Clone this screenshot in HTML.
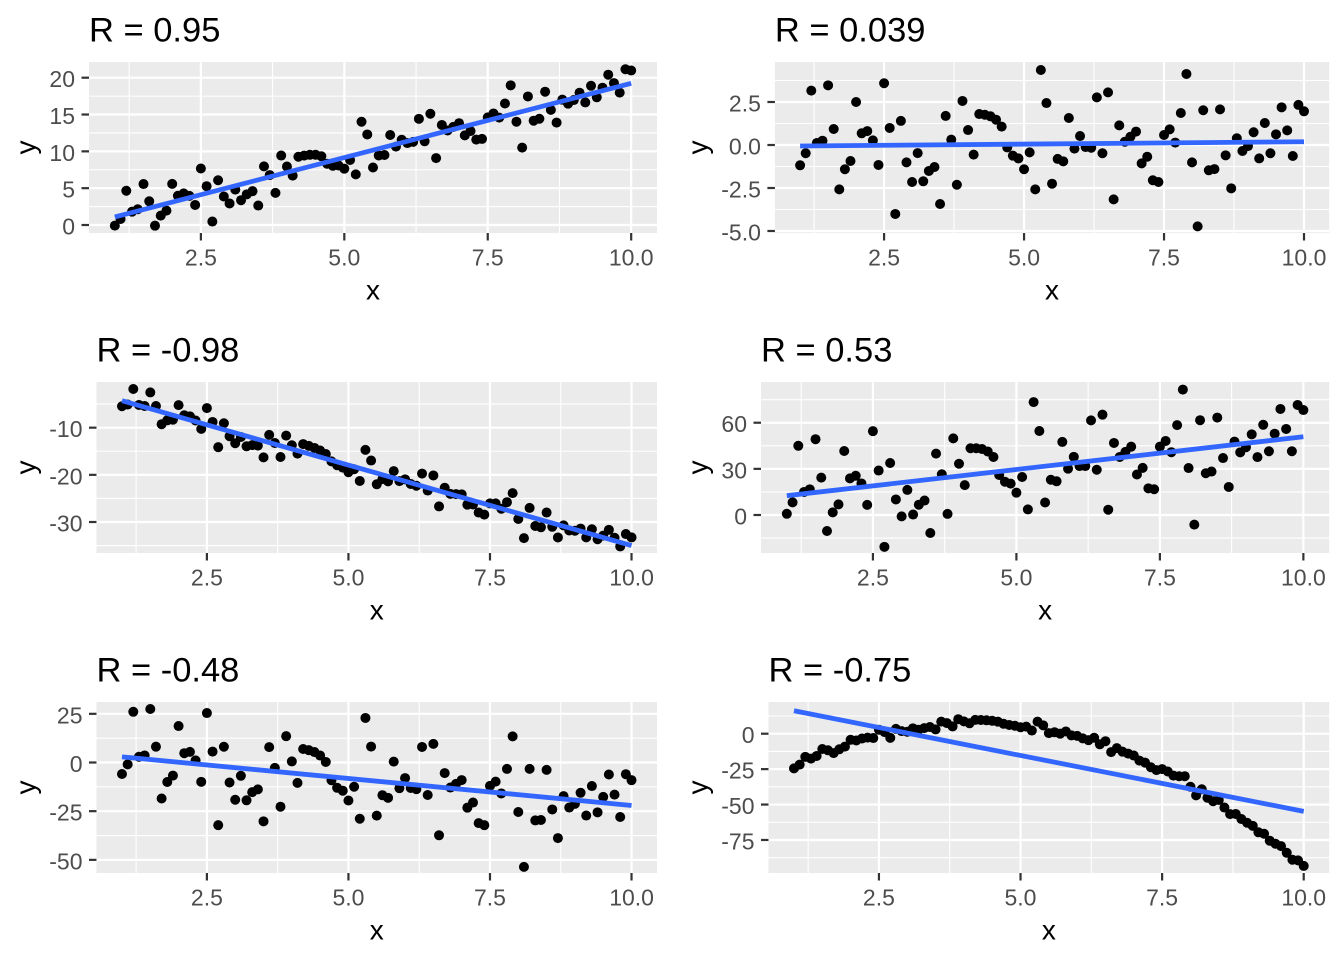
<!DOCTYPE html>
<html><head><meta charset="utf-8">
<style>
html,body{margin:0;padding:0;background:#fff;}
svg{display:block;}
text{font-family:"Liberation Sans",Arial,sans-serif;}
.tl{font-size:23px;fill:#4D4D4D;}
.at{font-size:28px;fill:#000;}
.tt{font-size:34.5px;fill:#000;}
</style></head><body>
<svg id="s" width="1344" height="960" xmlns="http://www.w3.org/2000/svg">
<rect width="1344" height="960" fill="#fff"/>
<g id="plots"></g>

<!-- Panel 1 -->
<text class="tt" x="89" y="41.3">R = 0.95</text>
<g class="tl" text-anchor="end">
<text x="75" y="234.5">0</text><text x="75" y="197.7">5</text><text x="75" y="160.9">10</text><text x="75" y="124">15</text><text x="75" y="87.2">20</text>
</g>
<g class="tl" text-anchor="middle">
<text x="200.9" y="265.7">2.5</text><text x="344.3" y="265.7">5.0</text><text x="487.7" y="265.7">7.5</text><text x="631.2" y="265.7">10.0</text>
</g>
<text class="at" x="373" y="299.3" text-anchor="middle">x</text>
<text class="at" text-anchor="middle" transform="translate(35,147.5) rotate(-90)">y</text>

<!-- Panel 2 -->
<text class="tt" x="774.9" y="41.3">R = 0.039</text>
<g class="tl" text-anchor="end">
<text x="760.9" y="111.5">2.5</text><text x="760.9" y="154.5">0.0</text><text x="760.9" y="197.5">-2.5</text><text x="760.9" y="240.5">-5.0</text>
</g>
<g class="tl" text-anchor="middle">
<text x="884.1" y="265.7">2.5</text><text x="1024.1" y="265.7">5.0</text><text x="1164" y="265.7">7.5</text><text x="1304" y="265.7">10.0</text>
</g>
<text class="at" x="1052" y="299.3" text-anchor="middle">x</text>
<text class="at" text-anchor="middle" transform="translate(707,147.5) rotate(-90)">y</text>

<!-- Panel 3 -->
<text class="tt" x="96.5" y="361.3">R = -0.98</text>
<g class="tl" text-anchor="end">
<text x="82.5" y="437.2">-10</text><text x="82.5" y="484.3">-20</text><text x="82.5" y="531.5">-30</text>
</g>
<g class="tl" text-anchor="middle">
<text x="206.9" y="585.7">2.5</text><text x="348.5" y="585.7">5.0</text><text x="490" y="585.7">7.5</text><text x="631.6" y="585.7">10.0</text>
</g>
<text class="at" x="376.75" y="619.3" text-anchor="middle">x</text>
<text class="at" text-anchor="middle" transform="translate(35,467.5) rotate(-90)">y</text>

<!-- Panel 4 -->
<text class="tt" x="761" y="361.3">R = 0.53</text>
<g class="tl" text-anchor="end">
<text x="747" y="524.5">0</text><text x="747" y="478.4">30</text><text x="747" y="432.2">60</text>
</g>
<g class="tl" text-anchor="middle">
<text x="872.9" y="585.7">2.5</text><text x="1016.4" y="585.7">5.0</text><text x="1159.9" y="585.7">7.5</text><text x="1303.4" y="585.7">10.0</text>
</g>
<text class="at" x="1045.1" y="619.3" text-anchor="middle">x</text>
<text class="at" text-anchor="middle" transform="translate(707,467.5) rotate(-90)">y</text>

<!-- Panel 5 -->
<text class="tt" x="96.5" y="681.3">R = -0.48</text>
<g class="tl" text-anchor="end">
<text x="82.5" y="723.3">25</text><text x="82.5" y="772">0</text><text x="82.5" y="820.7">-25</text><text x="82.5" y="869.4">-50</text>
</g>
<g class="tl" text-anchor="middle">
<text x="206.9" y="905.7">2.5</text><text x="348.5" y="905.7">5.0</text><text x="490" y="905.7">7.5</text><text x="631.6" y="905.7">10.0</text>
</g>
<text class="at" x="376.75" y="939.3" text-anchor="middle">x</text>
<text class="at" text-anchor="middle" transform="translate(35,787.5) rotate(-90)">y</text>

<!-- Panel 6 -->
<text class="tt" x="768.5" y="681.3">R = -0.75</text>
<g class="tl" text-anchor="end">
<text x="754.5" y="743.2">0</text><text x="754.5" y="778.6">-25</text><text x="754.5" y="814.05">-50</text><text x="754.5" y="849.5">-75</text>
</g>
<g class="tl" text-anchor="middle">
<text x="878.9" y="905.7">2.5</text><text x="1020.5" y="905.7">5.0</text><text x="1162.1" y="905.7">7.5</text><text x="1303.7" y="905.7">10.0</text>
</g>
<text class="at" x="1048.85" y="939.3" text-anchor="middle">x</text>
<text class="at" text-anchor="middle" transform="translate(707,787.5) rotate(-90)">y</text>
</svg>
<script>
(function(){
var NS="http://www.w3.org/2000/svg";
var E=[-1.18,-0.48,3.16,0.12,0.25,3.47,0.93,-2.58,-1.41,-0.93,
 2.5,0.68,0.81,0.27,-1.16,3.59,0.99,-4.01,1.40,-1.01,
 -2.15,-0.47,-2.11,-1.51,-1.28,-3.43,1.69,0.31,-2.31,2.56,
 0.87,-0.56,1.80,1.76,1.67,1.47,1.07,-0.14,-0.62,-0.78,
 -1.41,-0.43,-2.58,4.36,2.44,-2.25,-0.81,-0.95,1.57,-0.21,
 0.52,-0.12,-0.16,2.77,-0.48,3.06,-3.16,1.14,0.19,0.48,
 0.78,-1.07,-0.68,-2.05,-2.15,0.58,0.91,0.14,1.86,4.13,
 -1.01,-4.73,2.02,-1.47,-1.40,2.07,-0.60,-2.52,0.39,-0.35,
 -0.06,0.74,-0.78,1.28,-0.48,0.62,2.19,0.85,-0.64,2.33,
 1.96];
var X=E.map(function(_,i){return 1+0.1*i;});
var n=X.length,mx=0,my=0;
for(var i=0;i<n;i++){mx+=X[i];my+=E[i];}mx/=n;my/=n;
var sxy=0,sxx=0;for(i=0;i<n;i++){sxy+=(X[i]-mx)*(E[i]-my);sxx+=(X[i]-mx)*(X[i]-mx);}
var be=sxy/sxx,ae=my-be*mx;
function q(x){return -3.06*x*x+25.66*x-45.87;}
var P=[
 {l:89,r:657,t:62,b:233,y0:225,ys:7.365,major:[0,5,10,15,20],minor:[2.5,7.5,12.5,17.5],L:[1.09,19.24],s:1},
 {l:774.9,r:1329.2,t:62,b:233,y0:145,ys:17.2,major:[-5,-2.5,0,2.5],minor:[-3.75,-1.25,1.25,3.75],L:[-0.06,0.19],raw:true},
 {l:96.5,r:657,t:382,b:553,y0:380.5,ys:4.717,major:[-30,-20,-10],minor:[-35,-25,-15,-5],L:[-4.28,-35.0],s:1},
 {l:761,r:1329.2,t:382,b:553,y0:515,ys:1.538,major:[0,30,60],minor:[-15,15,45,75],L:[12.56,50.9],s:10},
 {l:96.5,r:657,t:702,b:873,y0:762.5,ys:1.947,major:[-50,-25,0,25],minor:[-37.5,-12.5,12.5],L:[2.91,-22.09],s:7.5},
 {l:768.5,r:1329.2,t:702,b:873,y0:733.7,ys:1.417,major:[-75,-50,-25,0],minor:[-87.5,-62.5,-37.5,-12.5,12.5],L:[16.2,-54.8],quad:true}
];
var root=document.getElementById("plots");
function el(tag,attrs,parent){var e=document.createElementNS(NS,tag);for(var k in attrs)e.setAttribute(k,attrs[k]);(parent||root).appendChild(e);return e;}
P.forEach(function(p){
 var kx=(p.r-p.l)/9.9;
 function px(x){return p.l+(x-0.55)*kx;}
 function py(v){return p.y0-p.ys*v;}
 var g=el("g",{});
 el("rect",{x:p.l,y:p.t,width:p.r-p.l,height:p.b-p.t,fill:"#EBEBEB"},g);
 p.minor.forEach(function(v){var y=py(v);el("line",{x1:p.l,x2:p.r,y1:y,y2:y,stroke:"#fff","stroke-width":1.1},g);});
 [1.25,3.75,6.25,8.75].forEach(function(v){var x=px(v);el("line",{x1:x,x2:x,y1:p.t,y2:p.b,stroke:"#fff","stroke-width":1.1},g);});
 p.major.forEach(function(v){var y=py(v);
   el("line",{x1:p.l,x2:p.r,y1:y,y2:y,stroke:"#fff","stroke-width":2.2},g);
   el("line",{x1:p.l-7.5,x2:p.l,y1:y,y2:y,stroke:"#333","stroke-width":2.2},g);});
 [2.5,5,7.5,10].forEach(function(v){var x=px(v);
   el("line",{x1:x,x2:x,y1:p.t,y2:p.b,stroke:"#fff","stroke-width":2.2},g);
   el("line",{x1:x,x2:x,y1:p.b,y2:p.b+7.5,stroke:"#333","stroke-width":2.2},g);});
 var L0=p.L[0],L1=p.L[1];
 function Lk(x){return L0+(L1-L0)*(x-1)/9;}
 for(var i=0;i<n;i++){
   var x=X[i],v;
   if(p.raw)v=E[i];
   else if(p.quad)v=q(x)+E[i];
   else v=Lk(x)+p.s*(E[i]-(ae+be*x));
   el("circle",{cx:px(x).toFixed(2),cy:py(v).toFixed(2),r:5,fill:"#000"},g);
 }
 el("line",{x1:px(1),y1:py(L0),x2:px(10),y2:py(L1),stroke:"#3366FF","stroke-width":4.8},g);
});
})();
</script>
</body></html>
